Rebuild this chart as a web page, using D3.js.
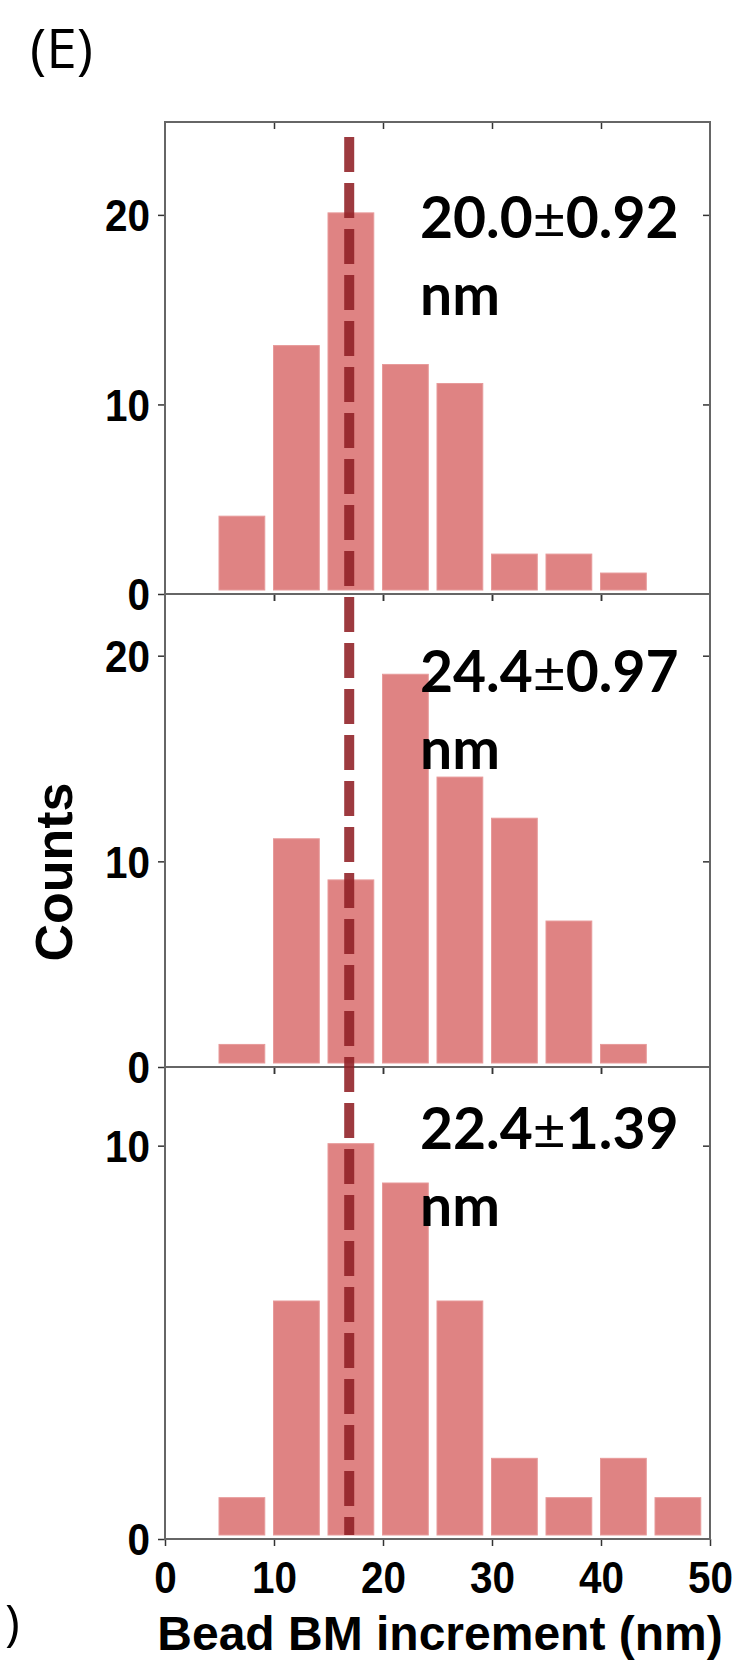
<!DOCTYPE html>
<html>
<head>
<meta charset="utf-8">
<script src="https://cdn.jsdelivr.net/npm/d3@7"></script>
<style>
  html, body { margin: 0; padding: 0; background: #fff; }
  svg { display: block; }
</style>
</head>
<body>
<script>
// ---------------- data ----------------
const binStart = [5, 10, 15, 20, 25, 30, 35, 40, 45];
const countsTop = [4, 13, 20, 12, 11, 2, 2, 1, 0];
const countsMid = [1, 11, 9, 19, 14, 12, 7, 1, 0];
const countsBot = [1, 6, 10, 9, 6, 2, 1, 2, 1];
const meanValues = ["20.0", "24.4", "22.4"];
const errValues = ["0.92", "0.97", "1.39"];
const unitLabel = "nm";
const yTicksTop = [0, 10, 20];
const yTicksMid = [0, 10, 20];
const yTicksBot = [0, 10];
const xTicks = [0, 10, 20, 30, 40, 50];
const referenceLine = 16.9;
const xTitle = "Bead BM increment (nm)";
const yTitle = "Counts";
const panelLabel = "(E)";

// ---------------- layout ----------------
const W = 741, H = 1661;
const left = 165, right = 710;
const panels = [
  { counts: countsTop, ticks: yTicksTop, yMax: 24.9, top: 122, bottom: 594, textDy: 116 },
  { counts: countsMid, ticks: yTicksMid, yMax: 23.0, top: 594, bottom: 1067, textDy: 98 },
  { counts: countsBot, ticks: yTicksBot, yMax: 12.0, top: 1067, bottom: 1539, textDy: 82 }
];
const barColor = "#df8383";
const frameColor = "#666";
const tickFont = "'Liberation Sans', Arial, sans-serif";
const sx = 0.92; // slight horizontal condensing of tick labels

const svg = d3.select("body").append("svg")
  .attr("width", W).attr("height", H);

const x = d3.scaleLinear().domain([0, 50]).range([left, right]);

panels.forEach((p, i) => {
  const y = d3.scaleLinear().domain([0, p.yMax]).range([p.bottom, p.top]);
  const g = svg.append("g");

  // bars
  const data = binStart.map((b, k) => ({ b, v: p.counts[k] })).filter(d => d.v > 0);
  g.selectAll("rect.bar").data(data).enter().append("rect")
    .attr("class", "bar")
    .attr("x", d => x(d.b) - 0.5)
    .attr("width", d => x(d.b + 4.2) - x(d.b))
    .attr("y", d => y(d.v) - 2)
    .attr("height", d => y(0) - y(d.v) - 2)
    .attr("fill", barColor)
    .attr("stroke", "#e79a9a")
    .attr("stroke-width", 1);

  const la = g.append("g").attr("transform", `translate(${left},0)`)
    .call(d3.axisLeft(y).tickValues(p.ticks).tickSize(7).tickPadding(8).tickFormat(d3.format("d")));
  const ra = g.append("g").attr("transform", `translate(${right},0)`)
    .call(d3.axisLeft(y).tickValues(p.ticks.filter(t => t > 0)).tickSize(7).tickFormat(""));
  const ta = g.append("g").attr("transform", `translate(0,${p.top})`)
    .call(d3.axisBottom(x).tickValues(xTicks.slice(1, -1)).tickSize(7).tickFormat(""));
  const ba = g.append("g").attr("transform", `translate(0,${p.bottom})`)
    .call(d3.axisBottom(x).tickValues(i === 2 ? xTicks : xTicks.slice(1, -1)).tickSize(7).tickPadding(6)
      .tickFormat(i === 2 ? d3.format("d") : ""));

  [la, ra, ta, ba].forEach(a => {
    a.select(".domain").remove();
    a.selectAll(".tick line").attr("stroke", "#333").attr("stroke-width", 1.5);
    a.selectAll(".tick text")
      .attr("fill", "#000")
      .style("font-family", tickFont)
      .style("font-weight", "bold")
      .style("font-size", "44px");
  });
  la.selectAll(".tick text")
    .attr("x", -15 / sx)
    .attr("dy", "0.36em")
    .attr("transform", `scale(${sx},1)`);
  ba.selectAll(".tick text")
    .attr("dy", "0.93em")
    .attr("transform", `scale(${sx},1)`);

  g.append("rect")
    .attr("x", left).attr("y", p.top)
    .attr("width", right - left).attr("height", p.bottom - p.top)
    .attr("fill", "none").attr("stroke", frameColor).attr("stroke-width", 2);

  const t = g.append("text")
    .attr("x", 420).attr("y", p.top + p.textDy)
    .style("font-family", "Lato, 'Open Sans', sans-serif")
    .style("font-weight", "bold")
    .style("font-size", "57px")
    .attr("fill", "#000");
  t.append("tspan").text(meanValues[i]);
  t.append("tspan").style("font-weight", "normal").text("±");
  t.append("tspan").text(errValues[i]);
  g.append("text")
    .attr("x", 420).attr("y", p.top + p.textDy + 77)
    .style("font-family", "Lato, 'Open Sans', sans-serif")
    .style("font-weight", "bold")
    .style("font-size", "57px")
    .attr("fill", "#000")
    .text(unitLabel);
});

svg.append("line")
  .attr("x1", x(referenceLine)).attr("x2", x(referenceLine))
  .attr("y1", 137).attr("y2", 1535)
  .attr("stroke", "#8f1f24")
  .attr("stroke-opacity", 0.88)
  .attr("stroke-width", 10)
  .attr("stroke-dasharray", "35,11");

svg.append("text")
  .attr("x", 440).attr("y", 1650)
  .attr("text-anchor", "middle")
  .style("font-family", tickFont)
  .style("font-weight", "bold")
  .style("font-size", "48px")
  .text(xTitle);

svg.append("text")
  .attr("transform", `translate(72,872) rotate(-90)`)
  .attr("text-anchor", "middle")
  .style("font-family", tickFont)
  .style("font-weight", "bold")
  .style("font-size", "52px")
  .text(yTitle);

svg.append("text")
  .attr("x", 30).attr("y", 68)
  .style("font-family", "'Open Sans', Lato, sans-serif")
  .style("font-size", "55px")
  .text(panelLabel);
svg.append("text")
  .attr("x", 5).attr("y", 1640)
  .style("font-family", "'Open Sans', Lato, sans-serif")
  .style("font-size", "50px")
  .text(")");
</script>
</body>
</html>
